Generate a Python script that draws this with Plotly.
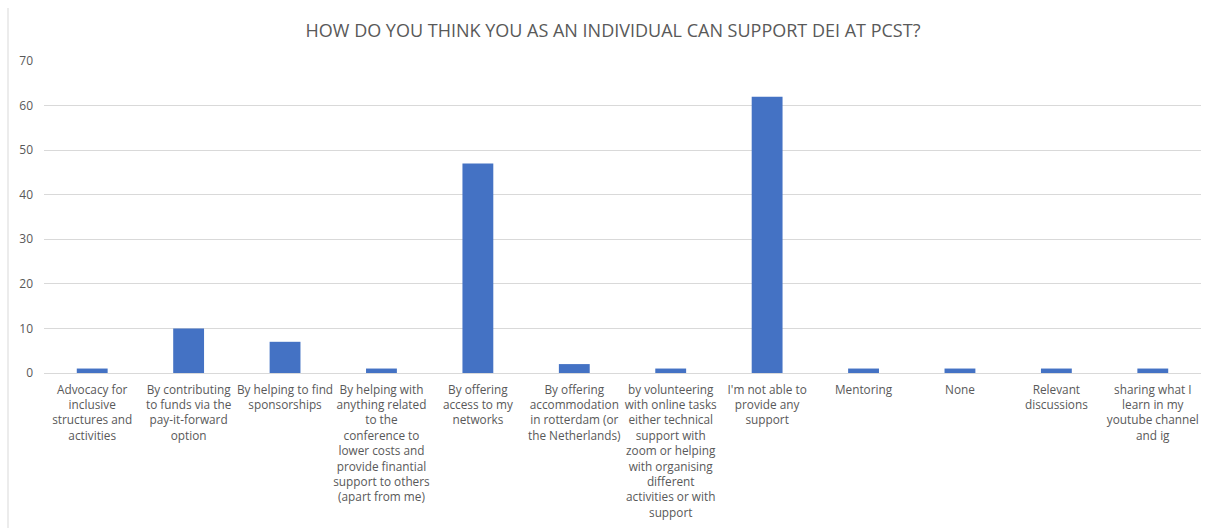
import plotly.graph_objects as go

categories = [
    "Advocacy for<br>inclusive<br>structures and<br>activities",
    "By contributing<br>to funds via the<br>pay-it-forward<br>option",
    "By helping to find<br>sponsorships",
    "By helping with<br>anything related<br>to the<br>conference to<br>lower costs and<br>provide finantial<br>support to others<br>(apart from me)",
    "By offering<br>access to my<br>networks",
    "By offering<br>accommodation<br>in rotterdam (or<br>the Netherlands)",
    "by volunteering<br>with online tasks<br>either technical<br>support with<br>zoom or helping<br>with organising<br>different<br>activities or with<br>support",
    "I'm not able to<br>provide any<br>support",
    "Mentoring",
    "None",
    "Relevant<br>discussions",
    "sharing what I<br>learn in my<br>youtube channel<br>and ig",
]
values = [1, 10, 7, 1, 47, 2, 1, 62, 1, 1, 1, 1]
y_ticks = [0, 10, 20, 30, 40, 50, 60, 70]
title = "HOW DO YOU THINK YOU AS AN INDIVIDUAL CAN SUPPORT DEI AT PCST?"

FONT = "Open Sans"

fig = go.Figure(go.Bar(
    x=categories, y=values,
    marker=dict(color="#4472C4", line=dict(width=0)),
    width=0.32,
))

W, H = 1208, 528
L, R, T, B = 44, 7, 61, 155

fig.update_layout(
    width=W, height=H,
    margin=dict(l=L, r=R, t=T, b=B),
    paper_bgcolor="white", plot_bgcolor="white",
    showlegend=False,
    title=dict(text=title, x=(303 + 923) / 2 / W, xanchor="center",
               y=1 - 31 / H, yanchor="middle",
               font=dict(family=FONT, size=18, color="#595959")),
    font=dict(family=FONT, color="#595959"),
    xaxis=dict(tickfont=dict(family=FONT, size=11.8, color="#595959"),
               tickangle=0, showline=False, showgrid=False, ticks="",
               ticklabelstandoff=8,
               automargin=False, fixedrange=True),
    yaxis=dict(range=[0, 70], tickvals=y_ticks, showgrid=True,
               gridcolor="#D9D9D9", gridwidth=1, zeroline=True,
               zerolinecolor="#D9D9D9", zerolinewidth=1, showline=False,
               tickfont=dict(family=FONT, size=12, color="#595959"),
               ticks="", ticklabelstandoff=10, automargin=False),
    shapes=[dict(type="line", xref="paper", yref="paper",
                 x0=(8 - L) / (W - L - R), x1=(8 - L) / (W - L - R),
                 y0=(H - B - 8) / (H - T - B), y1=-(B) / (H - T - B),
                 line=dict(color="#D9D9D9", width=1))],
)

fig.write_html("out.html")
